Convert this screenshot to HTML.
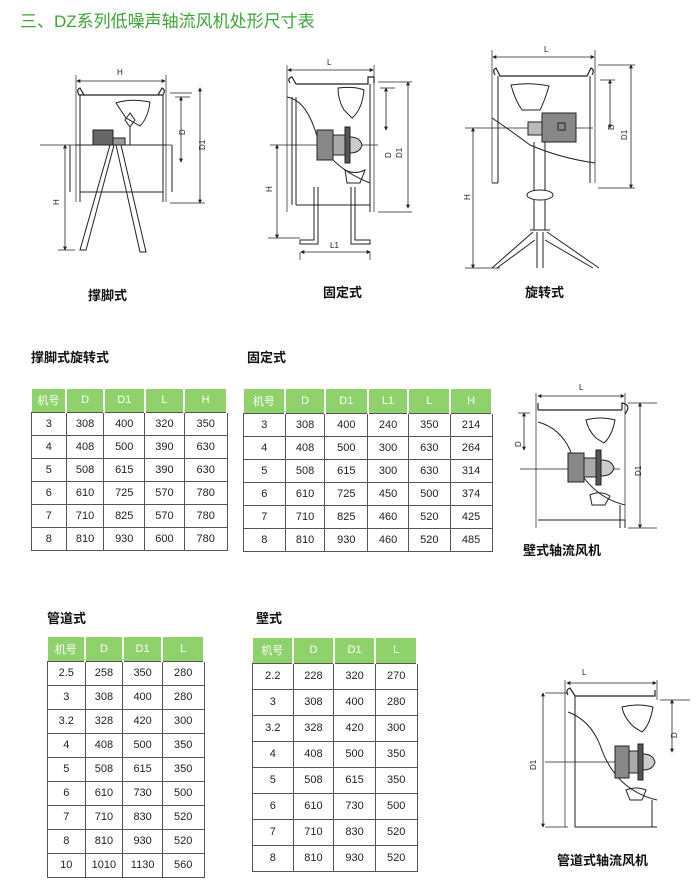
<!DOCTYPE html>
<html><head><meta charset="utf-8">
<style>
body{margin:0;width:700px;height:891px;background:#fff;position:relative;overflow:hidden;font-family:"Liberation Sans","Noto Sans CJK SC",sans-serif;}
.t{position:absolute;border-collapse:collapse;font-size:11px;color:#222;}
.t td{border:1px solid #555;text-align:center;padding:0;}
.t tr.h td{background:#8fd16b;color:#fff;border:none;border-right:2px solid #fff;}
.lbl{position:absolute;font-size:13px;color:#111;font-weight:bold;}
.ttl{position:absolute;left:20px;top:7px;font-size:17px;color:#3aa535;}
</style></head><body>
<div class="ttl">三、DZ系列低噪声轴流风机处形尺寸表</div>

<svg width="700" height="891" style="position:absolute;left:0;top:0" stroke="#222" fill="none" stroke-width="1">
<defs><marker id="a" viewBox="0 0 6 6" refX="5" refY="3" markerWidth="5" markerHeight="5" orient="auto-start-reverse"><path d="M0 0L6 3L0 6Z" fill="#222" stroke="none"/></marker></defs>
<g font-size="8" fill="#222" stroke="none" font-family="Liberation Sans">
<text x="117" y="75">H</text><text x="185" y="135" transform="rotate(-90 185 135)">D</text><text x="205" y="150" transform="rotate(-90 205 150)">D1</text><text x="59" y="205" transform="rotate(-90 59 205)">H</text>
<text x="327" y="65">L</text><text x="391" y="158" transform="rotate(-90 391 158)">D</text><text x="402" y="158" transform="rotate(-90 402 158)">D1</text><text x="272" y="192" transform="rotate(-90 272 192)">H</text><text x="330" y="248">L1</text>
<text x="544" y="52">L</text><text x="614" y="130" transform="rotate(-90 614 130)">D</text><text x="627" y="140" transform="rotate(-90 627 140)">D1</text><text x="470" y="200" transform="rotate(-90 470 200)">H</text>
<text x="579" y="390">L</text><text x="521" y="447" transform="rotate(-90 521 447)">D</text><text x="641" y="476" transform="rotate(-90 641 476)">D1</text>
<text x="582" y="675">L</text><text x="536" y="770" transform="rotate(-90 536 770)">D1</text><text x="677" y="738" transform="rotate(-90 677 738)">D</text>
</g>
<g stroke-width="0.8" marker-start="url(#a)" marker-end="url(#a)">
<path d="M77 81H165"/><path d="M181 97V162"/><path d="M200 88V203"/><path d="M65 145V250"/>
<path d="M288 70H373"/><path d="M386 88V130"/><path d="M408 82V208"/><path d="M277 145V238"/><path d="M301 252H370"/>
<path d="M493 57H594"/><path d="M610 80V128"/><path d="M631 65V188"/><path d="M473 128V268"/>
<path d="M538 396H624"/><path d="M640 403V528"/><path d="M524 413V450"/>
<path d="M567 683H656"/><path d="M543 693V827"/><path d="M672 700V752"/>
</g>
<g stroke-width="0.7">
<path d="M76 75V202M166 75V202M170 93H192M170 203H205M175 97H190M40 145H172M58 250H75"/>
<path d="M287 65V212M374 65V212M378 82H412M378 212H412M380 88H395M270 145H378M268 238H300M300 252V260M370 252V260"/>
<path d="M492 50V183M595 50V183M598 65H635M598 188H635M600 80H615M465 128H593M465 268H500"/>
<path d="M536 393V528M625 393V528M628 403H657M628 528H657M520 469H620M518 413H530"/>
<path d="M565 680V827M657 680V700M545 693H568M545 827H568M545 762H655M660 700H690"/>
</g>
<!-- drawing 1 -->
<path d="M79 95Q76 90 80 88L84 95H158L162 88Q166 90 163 95Z" stroke-width="1.2"/>
<path d="M80 95V202M163 95V202M76 145H166M80 192H163M70 145V192M172 145V192M110 145L80 250L86 250L114 145M116 145L140 252L146 252L121 145"/>
<rect x="93" y="130" width="20" height="15" fill="#666"/><rect x="113" y="138" width="12" height="7" fill="#999"/>
<path d="M116 103Q130 98 150 102Q148 118 140 126L126 118Z"/><path d="M130 113L135 120L130 127L125 120Z"/><path d="M130 127V145"/>
<!-- drawing 2 -->
<path d="M290 83Q287 78 292 77L296 84H368V77L374 77V83" stroke-width="1.2"/>
<path d="M292 97V205M296 97V205M370 84V212M287 97Q305 100 315 130Q325 165 370 183M296 205H370"/>
<path d="M314 187V240H300V244H318V187M355 187V240H370V244H351V187"/>
<path d="M338 88Q355 86 364 90Q362 110 352 118L344 110Q338 100 338 88Z"/><path d="M345 170Q355 175 365 170L360 183H347Z"/>
<path d="M317 130H333V160H317Z" fill="#888"/><path d="M333 135H345V155H333Z" fill="#aaa"/><path d="M345 127H350V163H345Z" fill="#555"/>
<path d="M350 137Q360 137 362 145Q360 153 350 153Z" fill="#ccc"/>
<!-- drawing 3 -->
<path d="M495 75Q492 70 496 68L500 76H587L591 68Q595 70 592 75" stroke-width="1.2"/>
<path d="M498 76V183M590 76V183M492 118Q510 130 530 145Q560 158 595 163M492 183H498M590 175V183"/>
<path d="M511 85Q530 82 549 86Q545 100 540 110H522Q515 100 511 85Z"/>
<path d="M542 113H576V142H542Z" fill="#888"/><path d="M528 122H542V135H528Z" fill="#bbb"/><rect x="558" y="123" width="7" height="7"/>
<path d="M534 142V230M545 142V230"/><ellipse cx="540" cy="195" rx="13" ry="5" fill="#fff"/>
<path d="M530 230H550M533 232L492 268M547 232L599 268M537 232L537 268M543 232L543 268M497 268L535 240M593 268L545 240"/>
<!-- wall fan -->
<path d="M538 410H622M538 410V403M622 410V403Q632 405 625 414" stroke-width="1.2"/>
<path d="M538 422Q560 428 570 450Q585 495 625 505M538 520H625M620 505V528M625 520V528"/>
<path d="M586 420Q600 416 615 420Q612 436 604 443L596 438Q588 430 586 420Z"/><path d="M590 495Q600 490 610 496L605 505H592Z"/>
<path d="M568 453H584V482H568Z" fill="#888"/><path d="M584 458H596V477H584Z" fill="#aaa"/><path d="M596 450H601V485H596Z" fill="#555"/>
<path d="M601 460Q612 460 614 468Q612 476 601 476Z" fill="#ccc"/>
<!-- duct fan -->
<path d="M568 695Q565 690 570 688L575 696H655V690" stroke-width="1.2"/>
<path d="M575 696V827M568 712Q590 720 600 745Q615 790 657 800M575 827H657M652 800V827"/>
<path d="M622 707Q638 703 653 707Q650 725 642 732L634 727Q624 718 622 707Z"/><path d="M626 790Q636 786 646 790L642 800H630Z"/>
<path d="M615 746H629V778H615Z" fill="#888"/><path d="M629 751H638V773H629Z" fill="#aaa"/><path d="M638 744H643V780H638Z" fill="#555"/>
<path d="M643 754Q653 754 655 762Q653 770 643 770Z" fill="#ccc"/>
</svg>

<div class="lbl" style="left:88px;top:285px;">撑脚式</div>
<div class="lbl" style="left:323px;top:282px;">固定式</div>
<div class="lbl" style="left:525px;top:282px;">旋转式</div>
<div class="lbl" style="left:31px;top:347px;">撑脚式旋转式</div>
<div class="lbl" style="left:247px;top:347px;">固定式</div>
<div class="lbl" style="left:523px;top:540px;">壁式轴流风机</div>
<div class="lbl" style="left:47px;top:608px;">管道式</div>
<div class="lbl" style="left:256px;top:608px;">壁式</div>
<div class="lbl" style="left:557px;top:850px;">管道式轴流风机</div>

<table class="t" style="left:31px;top:389px;width:197px;">
<colgroup><col style="width:35px"><col style="width:38px"><col style="width:41px"><col style="width:40px"><col style="width:43px"></colgroup>
<tr class="h" style="height:23px"><td>机号</td><td>D</td><td>D1</td><td>L</td><td>H</td></tr>
<tr style="height:23px"><td>3</td><td>308</td><td>400</td><td>320</td><td>350</td></tr>
<tr style="height:23px"><td>4</td><td>408</td><td>500</td><td>390</td><td>630</td></tr>
<tr style="height:23px"><td>5</td><td>508</td><td>615</td><td>390</td><td>630</td></tr>
<tr style="height:23px"><td>6</td><td>610</td><td>725</td><td>570</td><td>780</td></tr>
<tr style="height:23px"><td>7</td><td>710</td><td>825</td><td>570</td><td>780</td></tr>
<tr style="height:23px"><td>8</td><td>810</td><td>930</td><td>600</td><td>780</td></tr>
</table>

<table class="t" style="left:243px;top:389px;width:250px;">
<colgroup><col style="width:42px"><col style="width:40px"><col style="width:43px"><col style="width:41px"><col style="width:42px"><col style="width:42px"></colgroup>
<tr class="h" style="height:24px"><td>机号</td><td>D</td><td>D1</td><td>L1</td><td>L</td><td>H</td></tr>
<tr style="height:23px"><td>3</td><td>308</td><td>400</td><td>240</td><td>350</td><td>214</td></tr>
<tr style="height:23px"><td>4</td><td>408</td><td>500</td><td>300</td><td>630</td><td>264</td></tr>
<tr style="height:23px"><td>5</td><td>508</td><td>615</td><td>300</td><td>630</td><td>314</td></tr>
<tr style="height:23px"><td>6</td><td>610</td><td>725</td><td>450</td><td>500</td><td>374</td></tr>
<tr style="height:23px"><td>7</td><td>710</td><td>825</td><td>460</td><td>520</td><td>425</td></tr>
<tr style="height:23px"><td>8</td><td>810</td><td>930</td><td>460</td><td>520</td><td>485</td></tr>
</table>

<table class="t" style="left:47px;top:637px;width:158px;">
<colgroup><col style="width:38px"><col style="width:38px"><col style="width:40px"><col style="width:42px"></colgroup>
<tr class="h" style="height:24px"><td>机号</td><td>D</td><td>D1</td><td>L</td></tr>
<tr style="height:24px"><td>2.5</td><td>258</td><td>350</td><td>280</td></tr>
<tr style="height:24px"><td>3</td><td>308</td><td>400</td><td>280</td></tr>
<tr style="height:24px"><td>3.2</td><td>328</td><td>420</td><td>300</td></tr>
<tr style="height:24px"><td>4</td><td>408</td><td>500</td><td>350</td></tr>
<tr style="height:24px"><td>5</td><td>508</td><td>615</td><td>350</td></tr>
<tr style="height:24px"><td>6</td><td>610</td><td>730</td><td>500</td></tr>
<tr style="height:24px"><td>7</td><td>710</td><td>830</td><td>520</td></tr>
<tr style="height:24px"><td>8</td><td>810</td><td>930</td><td>520</td></tr>
<tr style="height:24px"><td>10</td><td>1010</td><td>1130</td><td>560</td></tr>
</table>

<table class="t" style="left:252px;top:638px;width:166px;">
<colgroup><col style="width:41px"><col style="width:41px"><col style="width:42px"><col style="width:42px"></colgroup>
<tr class="h" style="height:25px"><td>机号</td><td>D</td><td>D1</td><td>L</td></tr>
<tr style="height:26px"><td>2.2</td><td>228</td><td>320</td><td>270</td></tr>
<tr style="height:26px"><td>3</td><td>308</td><td>400</td><td>280</td></tr>
<tr style="height:26px"><td>3.2</td><td>328</td><td>420</td><td>300</td></tr>
<tr style="height:26px"><td>4</td><td>408</td><td>500</td><td>350</td></tr>
<tr style="height:26px"><td>5</td><td>508</td><td>615</td><td>350</td></tr>
<tr style="height:26px"><td>6</td><td>610</td><td>730</td><td>500</td></tr>
<tr style="height:26px"><td>7</td><td>710</td><td>830</td><td>520</td></tr>
<tr style="height:26px"><td>8</td><td>810</td><td>930</td><td>520</td></tr>
</table>
</body></html>
